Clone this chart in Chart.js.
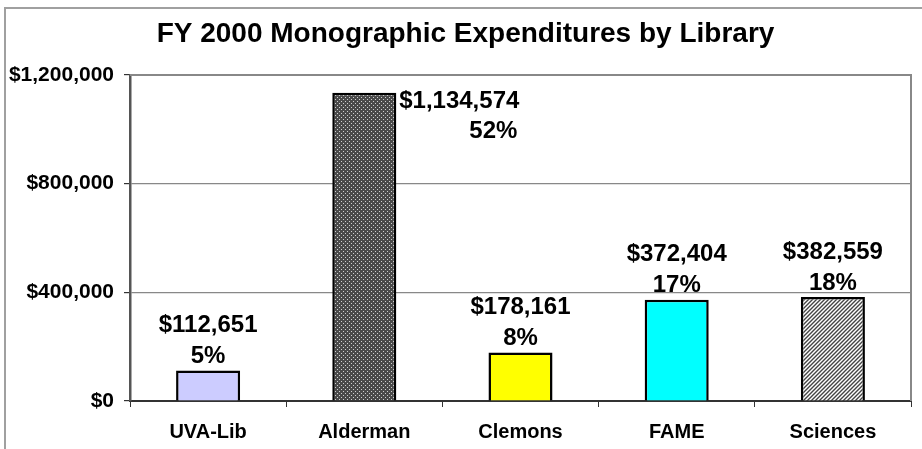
<!DOCTYPE html>
<html>
<head>
<meta charset="utf-8">
<script src="https://cdn.jsdelivr.net/npm/chart.js@4"></script>
<style>
  html, body { margin: 0; padding: 0; background: #fff; }
  #wrap { width: 922px; height: 449px; }
</style>
</head>
<body>
<div id="wrap"><canvas id="libChart" width="922" height="449"></canvas></div>
<script>
// data
const libraries = ['UVA-Lib', 'Alderman', 'Clemons', 'FAME', 'Sciences'];
const spending = [112651, 1134574, 178161, 372404, 382559];
const shares = [5, 52, 8, 17, 18];
const yTicks = [0, 400000, 800000, 1200000];
const chartTitle = 'FY 2000 Monographic Expenditures by Library';

const FONT = '"Liberation Sans", Arial, sans-serif';

function money(v) {
    return '$' + v.toLocaleString('en-US');
}

// dotted fill (Alderman)
function dotPattern() {
    const c = document.createElement('canvas');
    c.width = 4; c.height = 4;
    const g = c.getContext('2d');
    g.fillStyle = '#4a4a4a';
    g.fillRect(0, 0, 4, 4);
    g.fillStyle = '#d0d0d0';
    g.fillRect(1, 1, 1, 1);
    g.fillRect(3, 3, 1, 1);
    return g.createPattern(c, 'repeat');
}

// diagonal hatch (Sciences)
function hatchPattern() {
    const c = document.createElement('canvas');
    c.width = 4; c.height = 4;
    const g = c.getContext('2d');
    g.fillStyle = '#ffffff';
    g.fillRect(0, 0, 4, 4);
    g.strokeStyle = '#444';
    g.lineWidth = 1.4;
    g.beginPath();
    g.moveTo(-1, 5); g.lineTo(5, -1);
    g.moveTo(-1, 1); g.lineTo(1, -1);
    g.moveTo(3, 5); g.lineTo(5, 3);
    g.stroke();
    return g.createPattern(c, 'repeat');
}

const outerBox = {
    id: 'outerBox',
    beforeDraw(chart) {
        const ctx = chart.ctx;
        ctx.save();
        ctx.fillStyle = '#fff';
        ctx.fillRect(0, 0, chart.width, chart.height);
        ctx.strokeStyle = '#a0a0a0';
        ctx.lineWidth = 2;
        ctx.strokeRect(5, 8, chart.width + 20, chart.height + 20);
        // title, centred on the outer box
        ctx.fillStyle = '#000';
        ctx.font = 'bold 28px ' + FONT;
        ctx.textAlign = 'center';
        ctx.textBaseline = 'middle';
        ctx.fillText(chartTitle, (5 + chart.width) / 2 + 2, 34);
        ctx.restore();
    },
    afterDraw(chart) {
        // top and right border of plot area
        const a = chart.chartArea;
        const ctx = chart.ctx;
        ctx.save();
        ctx.strokeStyle = '#888';
        ctx.lineWidth = 2;
        ctx.beginPath();
        ctx.moveTo(a.left, a.top);
        ctx.lineTo(a.right, a.top);
        ctx.lineTo(a.right, a.bottom);
        ctx.stroke();
        ctx.restore();
    }
};

const barLabels = {
    id: 'barLabels',
    afterDatasetsDraw(chart) {
        const ctx = chart.ctx;
        const meta = chart.getDatasetMeta(0);
        ctx.save();
        ctx.fillStyle = '#000';
        ctx.font = 'bold 24px ' + FONT;
        ctx.textBaseline = 'middle';
        meta.data.forEach((bar, i) => {
            const line1 = money(spending[i]);
            const line2 = shares[i] + '%';
            if (bar.y - 58 < chart.chartArea.top) {
                // no room above: set beside the bar
                ctx.textAlign = 'right';
                const rx = bar.x + bar.width / 2 + 123;
                ctx.fillText(line1, rx, bar.y + 9);
                ctx.fillText(line2, rx - 2, bar.y + 39);
            } else {
                ctx.textAlign = 'center';
                ctx.fillText(line1, bar.x, bar.y - 45);
                ctx.fillText(line2, bar.x, bar.y - 14);
            }
        });
        ctx.restore();
    }
};

const ctx = document.getElementById('libChart').getContext('2d');
const libChart = new Chart(ctx, {
    type: 'bar',
    data: {
        labels: libraries,
        datasets: [{
            data: spending,
            backgroundColor: ['#ccccff', dotPattern(), '#ffff00', '#00ffff', hatchPattern()],
            borderColor: '#000',
            borderWidth: 2.5,
            borderSkipped: 'bottom',
            barPercentage: 0.41,
            categoryPercentage: 1
        }]
    },
    options: {
        responsive: false,
        animation: false,
        layout: { padding: { left: 0, right: 11, top: 75, bottom: 0 } },
        plugins: {
            legend: { display: false },
            tooltip: { enabled: false },
            title: { display: false }
        },
        scales: {
            x: {
                grid: {
                    offset: true,
                    drawOnChartArea: false,
                    color: '#333',
                    tickLength: 6
                },
                border: { color: '#333', width: 2 },
                ticks: {
                    color: '#000',
                    padding: 13,
                    font: { family: FONT, size: 20, weight: 'bold' }
                },
                afterFit(scale) { scale.height = 48; }
            },
            y: {
                min: 0,
                max: 1200000,
                afterBuildTicks(scale) {
                    scale.ticks = yTicks.map(v => ({ value: v }));
                },
                grid: {
                    color: '#888',
                    lineWidth: 1.2,
                    tickColor: '#333',
                    tickLength: 6
                },
                border: { color: '#555', width: 2.5 },
                ticks: {
                    color: '#000',
                    padding: 10,
                    font: { family: FONT, size: 21, weight: 'bold' },
                    callback: v => money(v)
                },
                afterFit(scale) { scale.width = 130; }
            }
        }
    },
    plugins: [outerBox, barLabels]
});
</script>
</body>
</html>
